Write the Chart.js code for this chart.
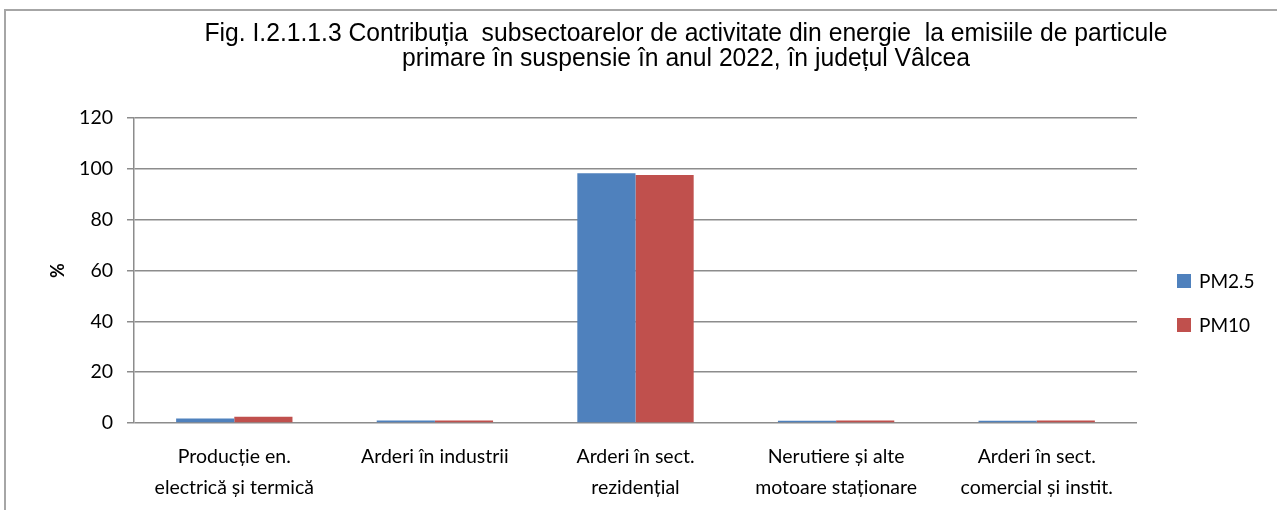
<!DOCTYPE html>
<html lang="ro">
<head>
    <meta charset="UTF-8">
    <script src="https://cdn.jsdelivr.net/npm/chart.js"></script>
    <title>Fig. I.2.1.1.3</title>
    <style>
        body { margin: 0; background: #fff; }
        #wrap { width: 1277px; height: 510px; }
    </style>
</head>
<body>
<div id="wrap"><canvas id="myChart"></canvas></div>

<script>
    const categories = [
        ['Producție en.', 'electrică și termică'],
        'Arderi în industrii',
        ['Arderi în sect.', 'rezidențial'],
        ['Nerutiere și alte', 'motoare staționare'],
        ['Arderi în sect.', 'comercial și instit.']
    ];
    const pm25 = [1.8, 1.0, 98.3, 0.9, 0.9];
    const pm10 = [2.5, 1.0, 97.6, 1.0, 1.0];
    const titleLines = [
        'Fig. I.2.1.1.3 Contribuția  subsectoarelor de activitate din energie  la emisiile de particule',
        'primare în suspensie în anul 2022, în județul Vâlcea'
    ];

    const gridColor = '#8c8c8c';
    const labelFont = 'Lato, "Noto Sans", sans-serif';

    // frame, title and legend drawn by hand to match the original layout
    const decor = {
        id: 'decor',
        beforeDraw(chart) {
            const c = chart.ctx;
            c.save();
            c.strokeStyle = '#a6a6a6';
            c.lineWidth = 2;
            c.beginPath();
            c.moveTo(5, 510);
            c.lineTo(5, 10);
            c.lineTo(1277, 10);
            c.stroke();
            c.restore();
        },
        afterDraw(chart) {
            const c = chart.ctx;
            c.save();
            c.fillStyle = '#000';
            c.font = '25px "Liberation Sans", Arial, sans-serif';
            c.textAlign = 'center';
            c.textBaseline = 'middle';
            // the original title is a condensed face: squeeze it sideways
            const sx = 963 / c.measureText(titleLines[0]).width;
            c.translate(686, 0);
            c.scale(sx, 1);
            c.fillText(titleLines[0], 0, 34);
            c.fillText(titleLines[1], 0, 59);
            c.restore();

            c.save();
            c.font = '19px ' + labelFont;
            c.textAlign = 'left';
            c.textBaseline = 'middle';
            chart.data.datasets.forEach((ds, i) => {
                const y = 281 + i * 44;
                c.fillStyle = ds.backgroundColor;
                c.fillRect(1177, y - 7, 14, 14);
                c.fillStyle = '#000';
                c.fillText(ds.label, 1199, y + 1);
            });
            c.restore();
        }
    };

    const ctx = document.getElementById('myChart');

    new Chart(ctx, {
        type: 'bar',
        data: {
            labels: categories,
            datasets: [{
                label: 'PM2.5',
                data: pm25,
                backgroundColor: '#4F81BD',
                categoryPercentage: 0.58,
                barPercentage: 1.0
            }, {
                label: 'PM10',
                data: pm10,
                backgroundColor: '#C0504D',
                categoryPercentage: 0.58,
                barPercentage: 1.0
            }]
        },
        options: {
            responsive: true,
            maintainAspectRatio: false,
            animation: false,
            layout: {
                padding: { top: 118, right: 140, left: 0, bottom: 0 }
            },
            plugins: {
                legend: { display: false },
                title: { display: false },
                tooltip: { enabled: false }
            },
            scales: {
                x: {
                    grid: { display: false, drawTicks: false },
                    border: { display: false },
                    ticks: {
                        color: '#000',
                        maxRotation: 0,
                        autoSkip: false,
                        padding: 18,
                        font: { family: labelFont, size: 19.5, lineHeight: 1.6 }
                    },
                    afterFit(scale) { scale.height = 87; }
                },
                y: {
                    min: 0,
                    max: 120,
                    ticks: {
                        stepSize: 20,
                        color: '#000',
                        padding: 14,
                        font: { family: labelFont, size: 19.5 }
                    },
                    grid: {
                        color: gridColor,
                        lineWidth: 1.5,
                        tickLength: 7
                    },
                    border: { color: gridColor, width: 1.5 },
                    title: {
                        display: true,
                        text: '%',
                        color: '#000',
                        padding: { top: 47, bottom: 0 },
                        font: { family: labelFont, size: 18, weight: 'bold' }
                    },
                    afterFit(scale) { scale.width = 134; }
                }
            }
        },
        plugins: [decor]
    });
</script>
</body>
</html>
